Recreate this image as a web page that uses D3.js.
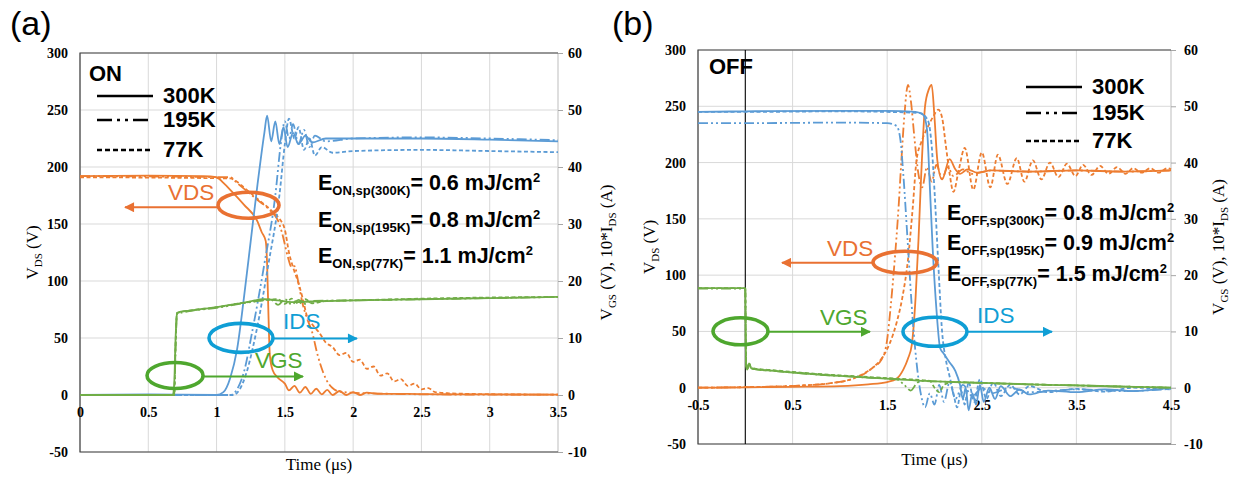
<!DOCTYPE html>
<html>
<head>
<meta charset="utf-8">
<script src="https://cdn.jsdelivr.net/npm/d3@7"></script>
<style>
body { margin: 0; background: #fff; }
</style>
</head>
<body>
<svg id="chart" width="1238" height="480"></svg>
<script>
// tick values
var onTicksX = [0, 0.5, 1, 1.5, 2, 2.5, 3, 3.5];
var offTicksX = [-0.5, 0.5, 1.5, 2.5, 3.5, 4.5];
var vdsTicks = [-50, 0, 50, 100, 150, 200, 250, 300];
var vgsTicks = [-10, 0, 10, 20, 30, 40, 50, 60];
var temps = ["300K", "195K", "77K"];

// ---- (a) turn-on, [time (us), value] ----
var onVds300 = [[0,192],[0.5,192.5],[0.9,192],[1.0,191],[1.05,186],[1.1,180],[1.2,167],[1.3,152],[1.33,143],[1.36,135],[1.37,115],[1.38,70],[1.39,35],[1.41,22],[1.45,15],[1.5,10],[1.53,4],[1.57,8],[1.61,2],[1.65,7],[1.69,1],[1.73,5.5],[1.77,0.5],[1.81,4.5],[1.85,0],[1.9,3.5],[1.95,0],[2.0,2.5],[2.05,0],[2.1,2],[2.2,1],[2.4,1],[2.7,0.5],[3.0,0.5],[3.5,0.3]];
var onVds195 = [[0,192],[1.1,191],[1.15,186],[1.2,181],[1.3,171],[1.4,161],[1.45,153],[1.48,142],[1.52,122],[1.55,112],[1.57,113],[1.6,98],[1.63,80],[1.66,68],[1.7,55],[1.74,35],[1.78,20],[1.82,10],[1.86,5],[1.9,3],[2.0,2],[2.1,1.5],[2.3,1],[2.6,0.5],[3.5,0.3]];
var onVds77 = [[0,191],[1.1,190],[1.15,187],[1.2,182],[1.3,172],[1.4,162],[1.45,156],[1.5,145],[1.53,125],[1.56,112],[1.6,98],[1.63,85],[1.66,70],[1.7,62],[1.75,55],[1.8,46],[1.85,42],[1.9,35],[1.95,37],[2.0,29],[2.05,31],[2.1,23],[2.15,25],[2.2,17],[2.25,19],[2.3,12],[2.35,14],[2.4,8],[2.45,10],[2.5,5],[2.55,6],[2.6,2.5],[2.7,1.5],[3.0,0.7],[3.5,0.3]];
var onIds300 = [[0,0],[0.5,0.1],[1.0,0],[1.05,0.5],[1.1,3],[1.15,8],[1.2,17],[1.25,27],[1.3,37],[1.35,46],[1.37,49],[1.4,44.5],[1.43,48],[1.46,44],[1.49,47],[1.52,43.5],[1.56,46],[1.6,44],[1.65,45.5],[1.7,44.3],[1.8,45],[2.0,45],[2.5,45],[3.0,44.8],[3.5,44.5]];
var onIds195 = [[0,0],[1.1,0],[1.15,1],[1.2,4],[1.26,11],[1.35,23],[1.43,35],[1.47,44],[1.5,48],[1.53,45],[1.56,47.5],[1.6,44],[1.64,46.5],[1.68,43.5],[1.72,45.5],[1.8,44.5],[2.0,45],[2.5,45.2],[3.0,45],[3.5,44.7]];
var onIds77 = [[0,0],[1.12,0],[1.17,1],[1.22,4],[1.29,11],[1.38,23],[1.46,35],[1.5,44],[1.53,48.5],[1.57,45],[1.6,47],[1.64,43],[1.68,45],[1.72,42],[1.77,43.5],[1.85,42.5],[2.0,42.8],[2.5,43],[3.0,42.8],[3.5,42.6]];
var onVgs300 = [[0,0],[0.5,0],[0.68,0],[0.69,2],[0.7,10],[0.71,14.3],[0.73,14.6],[0.8,14.8],[1.0,15.4],[1.2,16.2],[1.35,16.8],[1.45,16.6],[1.55,16.3],[1.7,16.4],[2.0,16.6],[2.5,16.8],[3.0,17.0],[3.5,17.2]];
var onVgs195 = [[0,0],[0.69,0],[0.7,8],[0.71,14.2],[0.8,14.7],[1.0,15.3],[1.2,16.1],[1.4,16.7],[1.45,15.8],[1.5,16.8],[1.55,15.9],[1.6,16.7],[1.65,16.0],[1.7,16.5],[2.0,16.6],[2.5,16.8],[3.0,17.0],[3.5,17.2]];
var onVgs77 = [[0,0],[0.69,0],[0.7,9],[0.71,14.4],[0.8,14.8],[1.0,15.4],[1.2,16.2],[1.45,16.8],[1.5,16.0],[1.55,16.9],[1.6,16.0],[1.65,16.8],[1.7,16.1],[1.8,16.5],[2.0,16.6],[2.5,16.9],[3.0,17.1],[3.5,17.2]];

// ---- (b) turn-off ----
var offVds300 = [[-0.5,0],[0,0.3],[0.5,0.8],[1.0,1.5],[1.3,3],[1.5,5],[1.6,8],[1.67,16],[1.72,26],[1.76,38],[1.8,80],[1.83,130],[1.86,190],[1.9,250],[1.94,265],[1.97,269],[2.0,240],[2.03,202],[2.08,185],[2.16,203],[2.22,194],[2.27,190],[2.35,194],[2.45,191],[2.6,193],[3.0,192],[3.5,193],[4.0,192],[4.5,193]];
var offVds195 = [[-0.5,0],[0,0.5],[0.3,1],[0.6,2],[0.9,4],[1.1,7],[1.25,12],[1.35,18],[1.44,25],[1.5,43],[1.54,75],[1.58,114],[1.62,160],[1.65,202],[1.68,240],[1.72,269],[1.75,255],[1.79,220],[1.83,190],[1.87,178],[1.92,196],[1.97,183],[2.02,198],[2.08,186],[2.14,196],[2.2,188],[2.3,194],[2.4,190],[2.6,193],[3.0,192],[3.5,193],[4.0,192],[4.5,193]];
var offVds77 = [[-0.5,0],[0,0.5],[0.3,1],[0.6,2],[0.9,4],[1.1,7],[1.24,12],[1.35,18],[1.45,27],[1.53,40],[1.6,58],[1.66,80],[1.72,114],[1.77,160],[1.81,202],[1.86,218],[1.92,230],[1.98,240],[2.04,247],[2.08,240],[2.12,215],[2.16,190],[2.2,174],[2.26,195],[2.32,213],[2.41,176],[2.5,209],[2.59,178],[2.67,207],[2.77,181],[2.87,204],[2.95,183],[3.04,202],[3.13,185],[3.22,200],[3.31,187],[3.4,199],[3.49,188],[3.57,198],[3.66,189],[3.75,197],[3.84,190],[3.93,196],[4.02,190],[4.1,195],[4.19,191],[4.28,195],[4.37,191],[4.46,195],[4.5,194]];
var offIds300 = [[-0.5,49],[0,49.1],[1.0,49.2],[1.5,49.2],[1.8,49],[1.88,48.5],[1.92,46],[1.95,36],[1.98,25],[2.02,14],[2.06,7],[2.1,6],[2.16,4.5],[2.22,3],[2.27,0.5],[2.3,-2],[2.33,0],[2.36,-4],[2.4,-1],[2.44,-3],[2.48,0.5],[2.52,-2.5],[2.58,0],[2.64,-2],[2.7,0.3],[2.8,-1.5],[2.9,-0.3],[3.0,-1.2],[3.2,-0.5],[3.5,-0.8],[3.8,-0.3],[4.1,-0.6],[4.5,0]];
var offIds195 = [[-0.5,47],[0,47],[1.0,47.1],[1.5,47],[1.6,46.5],[1.64,44],[1.67,38],[1.72,25],[1.77,12],[1.82,3],[1.86,-1.5],[1.9,-3.5],[1.95,-1],[2.0,-3],[2.05,0.5],[2.1,-2.5],[2.16,1],[2.22,-2],[2.3,0.5],[2.4,-1.5],[2.5,0],[2.6,-1],[2.8,0],[3.0,-0.8],[3.5,-0.3],[4.0,-0.6],[4.5,-0.2]];
var offIds77 = [[-0.5,49],[0,49],[1.0,49.1],[1.5,49],[1.85,48.8],[1.93,47.5],[1.97,43],[2.0,35],[2.04,22],[2.08,10],[2.12,5],[2.16,2],[2.2,-1],[2.24,-3.5],[2.28,-0.5],[2.32,-3],[2.36,1],[2.42,-2.5],[2.48,1.5],[2.55,-2],[2.62,1],[2.7,-1.5],[2.8,0.5],[2.9,-1.2],[3.0,0.3],[3.2,-0.8],[3.5,-0.2],[3.8,-0.7],[4.1,0],[4.5,-0.3]];
var offVgs300 = [[-0.5,17.7],[-0.01,17.7],[0,17.6],[0.005,8],[0.01,4],[0.02,3.2],[0.04,4.3],[0.06,3.5],[0.1,3.3],[0.3,3.0],[0.5,2.7],[0.8,2.3],[1.0,2.1],[1.3,1.8],[1.6,1.5],[1.9,1.2],[2.2,1.0],[2.6,0.8],[3.0,0.6],[3.5,0.4],[4.0,0.2],[4.5,0]];
var offVgs195 = [[-0.5,17.6],[-0.01,17.6],[0,17.5],[0.005,8],[0.01,4],[0.02,3.3],[0.04,4.2],[0.06,3.5],[0.1,3.3],[0.3,3.0],[0.5,2.7],[0.8,2.3],[1.0,2.1],[1.3,1.8],[1.6,1.5],[1.68,0.5],[1.75,-0.5],[1.8,0.5],[1.85,1.2],[2.2,1.0],[2.6,0.8],[3.0,0.6],[3.5,0.4],[4.0,0.2],[4.5,0]];
var offVgs77 = [[-0.5,17.7],[-0.01,17.7],[0,17.6],[0.005,8],[0.01,4],[0.02,3.2],[0.04,4.4],[0.06,3.6],[0.1,3.4],[0.3,3.1],[0.5,2.8],[0.8,2.4],[1.0,2.2],[1.3,1.9],[1.6,1.6],[1.95,1.2],[2.0,0],[2.05,-0.8],[2.1,0.5],[2.2,1.0],[2.6,0.8],[3.0,0.6],[3.5,0.4],[4.0,0.2],[4.5,0]];

var onEnergy = ["0.6", "0.8", "1.1"];
var offEnergy = ["0.8", "0.9", "1.5"];

var svg = d3.select("#chart");
var dashes = { "300K": null, "195K": "10,3,2,3,2,3", "77K": "4,2.5" };
var legendDashes = { "300K": null, "195K": "15,5,3,5,3,5", "77K": "5,3" };
var cOrange = "#ED7D31", cBlue = "#5B9BD5", cGreen = "#70AD47";
var aOrange = "#E97132", aBlue = "#0F9ED5", aGreen = "#4EA72E";
var sans = "'Liberation Sans', Arial, sans-serif";
var serif = "'Liberation Serif', 'Times New Roman', serif";

// arrow heads
var defs = svg.append("defs");
[["ao", aOrange], ["ab", aBlue], ["ag", aGreen]].forEach(function(m) {
    defs.append("marker")
        .attr("id", m[0])
        .attr("viewBox", "0 0 10 10")
        .attr("refX", 9).attr("refY", 5)
        .attr("markerUnits", "userSpaceOnUse")
        .attr("markerWidth", 11).attr("markerHeight", 10)
        .attr("orient", "auto")
        .append("path").attr("d", "M0,0 L10,5 L0,10 z").attr("fill", m[1]);
});

// text with sub/superscript parts
function rich(sel, parts, size, small, shift) {
    var cur = 0;
    parts.forEach(function(p) {
        var off = p[1] == "sub" ? shift : (p[1] == "sup" ? -shift * 1.6 : 0);
        sel.append("tspan")
            .attr("dy", off - cur)
            .attr("font-size", p[1] == "n" ? size : small)
            .text(p[0]);
        cur = off;
    });
}

function panel(p) {
    var x = d3.scaleLinear().domain(p.xDomain).range([p.left, p.right]);
    var y = d3.scaleLinear().domain([-50, 300]).range([p.bottom, p.top]);
    var y2 = d3.scaleLinear().domain([-10, 60]).range([p.bottom, p.top]);
    var g = svg.append("g");

    // grid
    g.selectAll(".gx").data(p.xTicks).enter().append("line")
        .attr("x1", d => x(d)).attr("x2", d => x(d))
        .attr("y1", p.top).attr("y2", p.bottom)
        .attr("stroke", "#d9d9d9").attr("stroke-width", 1);
    g.selectAll(".gy").data(vdsTicks).enter().append("line")
        .attr("x1", p.left).attr("x2", p.right)
        .attr("y1", d => y(d)).attr("y2", d => y(d))
        .attr("stroke", "#d9d9d9").attr("stroke-width", 1);

    // frame
    g.append("line").attr("x1", p.right).attr("x2", p.right).attr("y1", p.top).attr("y2", p.bottom)
        .attr("stroke", "#d0d0d0");
    g.append("path")
        .attr("d", "M" + p.right + "," + p.top + "H" + p.left + "V" + p.bottom + "H" + p.right)
        .attr("fill", "none").attr("stroke", "#404040").attr("stroke-width", 1.2);

    if (p.zeroLine) {
        g.append("line").attr("x1", x(0)).attr("x2", x(0)).attr("y1", p.top).attr("y2", p.bottom)
            .attr("stroke", "#000").attr("stroke-width", 1.1);
    }

    // axes labels
    var ax = g.append("g").attr("transform", "translate(" + p.left + ",0)")
        .call(d3.axisLeft(y).tickValues(vdsTicks).tickSize(0).tickPadding(12).tickFormat(d => String(d)));
    var ax2 = g.append("g").attr("transform", "translate(" + p.right + ",0)")
        .call(d3.axisRight(y2).tickValues(vgsTicks).tickSizeInner(5).tickSizeOuter(0).tickPadding(p.rightPad).tickFormat(d => String(d)));
    var ax3 = g.append("g").attr("transform", "translate(0," + y(0) + ")")
        .call(d3.axisBottom(x).tickValues(p.xTicks).tickSize(0).tickPadding(12).tickFormat(d => String(d)));
    [ax, ax2, ax3].forEach(function(a) {
        a.attr("font-family", serif);
        a.select(".domain").remove();
        a.selectAll("text").style("font-family", serif).attr("font-weight", "bold")
            .attr("font-size", 14).attr("fill", "#000");
    });
    ax2.selectAll(".tick line").attr("stroke", "#a6a6a6");

    // curves
    var lineP = d3.line().x(d => x(d[0])).y(d => y(d[1])).curve(d3.curveMonotoneX);
    var lineS = d3.line().x(d => x(d[0])).y(d => y2(d[1])).curve(d3.curveMonotoneX);
    var groups = [[p.vds, lineP, cOrange], [p.ids, lineS, cBlue], [p.vgs, lineS, cGreen]];
    groups.forEach(function(gr) {
        temps.forEach(function(t, i) {
            g.append("path")
                .attr("d", gr[1](gr[0][i]))
                .attr("fill", "none")
                .attr("stroke", gr[2])
                .attr("stroke-width", 1.8)
                .attr("stroke-dasharray", dashes[t]);
        });
    });

    // axis titles
    var tl = g.append("text").attr("transform", "translate(" + p.leftTitleX + "," + (p.top + p.bottom) / 2 + ") rotate(-90)")
        .attr("text-anchor", "middle").attr("font-family", serif).attr("fill", "#000");
    rich(tl, [["V", "n"], ["DS", "sub"], [" (V)", "n"]], 17, 11, 4);
    var tr = g.append("text").attr("transform", "translate(" + p.rightTitleX + "," + (p.top + p.bottom) / 2 + ") rotate(-90)")
        .attr("text-anchor", "middle").attr("font-family", serif).attr("fill", "#000");
    rich(tr, [["V", "n"], ["GS", "sub"], [" (V), 10*I", "n"], ["DS", "sub"], [" (A)", "n"]], 17, 11, 4);
    g.append("text").attr("x", (p.left + p.right) / 2).attr("y", p.xTitleY)
        .attr("text-anchor", "middle").attr("font-family", serif).attr("font-size", 17)
        .text("Time (\u03bcs)");

    // panel letter and mode
    g.append("text").attr("x", p.letterX).attr("y", 35).attr("font-family", sans)
        .attr("font-size", 34).text(p.letter);
    g.append("text").attr("x", p.left + p.modeDx).attr("y", p.top + p.modeDy)
        .attr("font-family", sans).attr("font-weight", "bold").attr("font-size", 22).text(p.mode);

    // legend
    temps.forEach(function(t, i) {
        g.append("line")
            .attr("x1", p.legX).attr("x2", p.legX + 56)
            .attr("y1", p.legY[i]).attr("y2", p.legY[i])
            .attr("stroke", "#000").attr("stroke-width", 2.4)
            .attr("stroke-dasharray", legendDashes[t]);
        g.append("text").attr("x", p.legX + 66).attr("y", p.legY[i] + 7)
            .attr("font-family", sans).attr("font-weight", "bold").attr("font-size", 22)
            .text(t);
    });

    // switching energies
    temps.forEach(function(t, i) {
        var et = g.append("text").attr("x", p.eX).attr("y", p.eY[i])
            .attr("font-family", sans).attr("font-weight", "bold").attr("fill", "#000");
        rich(et, [["E", "n"], [p.mode + ",sp(" + t + ")", "sub"], ["= " + p.energy[i] + " mJ/cm", "n"], ["2", "sup"]], 21.5, 13, 5);
    });

    // ellipse + arrow annotations
    p.notes.forEach(function(n) {
        var col = n.c == "o" ? aOrange : (n.c == "b" ? aBlue : aGreen);
        g.append("ellipse").attr("cx", x(n.t)).attr("cy", y(n.v))
            .attr("rx", n.rx).attr("ry", n.ry)
            .attr("fill", "none").attr("stroke", col).attr("stroke-width", 3.6);
        g.append("line").attr("x1", x(n.a0)).attr("x2", x(n.a1))
            .attr("y1", y(n.av)).attr("y2", y(n.av))
            .attr("stroke", col).attr("stroke-width", 2)
            .attr("marker-end", "url(#a" + n.c + ")");
        g.append("text").attr("x", x(n.lt)).attr("y", y(n.lv))
            .attr("font-family", sans).attr("font-size", 22.5).attr("fill", col).text(n.label);
    });
}

panel({
    letter: "(a)", letterX: 10, mode: "ON", modeDx: 9, modeDy: 28,
    left: 80, right: 558, top: 53, bottom: 452,
    xDomain: [0, 3.5], xTicks: onTicksX, zeroLine: false, rightPad: 5,
    leftTitleX: 38, rightTitleX: 612, xTitleY: 470,
    vds: [onVds300, onVds195, onVds77],
    ids: [onIds300, onIds195, onIds77],
    vgs: [onVgs300, onVgs195, onVgs77],
    legX: 97, legY: [96, 120, 150],
    eX: 318, eY: [190, 227, 263], energy: onEnergy,
    notes: [
        { c: "o", t: 1.234, v: 166.5, rx: 30.5, ry: 13, a0: 1.01, a1: 0.33, av: 164.7, lt: 0.644, lv: 170.9, label: "VDS" },
        { c: "b", t: 1.179, v: 50.1, rx: 32, ry: 14.5, a0: 1.413, a1: 2.028, av: 49.6, lt: 1.486, lv: 57.5, label: "IDS" },
        { c: "g", t: 0.696, v: 17.1, rx: 28, ry: 13, a0: 0.9, a1: 1.633, av: 16.3, lt: 1.281, lv: 23.3, label: "VGS" }
    ]
});

panel({
    letter: "(b)", letterX: 612, mode: "OFF", modeDx: 11, modeDy: 24,
    left: 698, right: 1171, top: 50, bottom: 444,
    xDomain: [-0.5, 4.5], xTicks: offTicksX, zeroLine: true, rightPad: 8,
    leftTitleX: 655, rightTitleX: 1224, xTitleY: 465,
    vds: [offVds300, offVds195, offVds77],
    ids: [offIds300, offIds195, offIds77],
    vgs: [offVgs300, offVgs195, offVgs77],
    legX: 1026, legY: [87, 113, 141],
    eX: 947, eY: [220, 250, 281], energy: offEnergy,
    notes: [
        { c: "o", t: 1.688, v: 111.4, rx: 32, ry: 11, a0: 1.35, a1: 0.388, av: 110.9, lt: 0.864, lv: 117.2, label: "VDS" },
        { c: "g", t: -0.051, v: 50.1, rx: 27.5, ry: 13.5, a0: 0.24, a1: 1.318, av: 49.7, lt: 0.79, lv: 55.9, label: "VGS" },
        { c: "b", t: 2.005, v: 49.7, rx: 32, ry: 14.5, a0: 2.344, a1: 3.242, av: 49.7, lt: 2.449, lv: 57.7, label: "IDS" }
    ]
});
</script>
</body>
</html>
